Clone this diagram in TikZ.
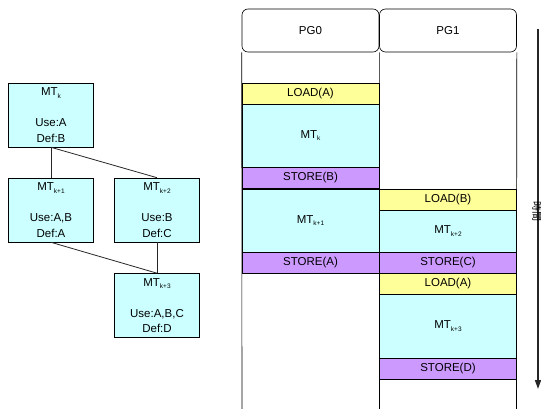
\documentclass[tikz,border=0pt]{standalone}
\usepackage{fontspec}
\setmainfont{Liberation Sans}
\newfontfamily\cjkfont{Noto Sans CJK JP}
\usetikzlibrary{arrows.meta}
\definecolor{mtcyan}{HTML}{CCFFFF}
\definecolor{ldyellow}{HTML}{FFFF99}
\definecolor{stpurple}{HTML}{CC99FF}
\newcommand{\mtsub}[1]{MT\raisebox{-0.45ex}{\fontsize{6.5}{6.5}\selectfont #1}}
\tikzset{
  graphbox/.style={draw=black, line width=0.6pt, fill=mtcyan, minimum width=85pt, minimum height=64pt,
    inner sep=0pt, align=center, font=\fontsize{11.5}{15.5}\selectfont},
  dep/.style={draw=black!85, line width=0.8pt},
  pghead/.style={draw=black, line width=0.6pt, rounded corners=6pt, minimum width=137pt, minimum height=43pt,
    inner sep=0pt, font=\fontsize{11.5}{12}\selectfont},
  blk/.style={draw=black, line width=0.6pt, minimum width=137pt, inner sep=0pt, font=\fontsize{11.5}{12}\selectfont},
  loadblk/.style={blk, fill=ldyellow, minimum height=21pt},
  storeblk/.style={blk, fill=stpurple, minimum height=21pt},
  mtblk/.style={blk, fill=mtcyan},
  colline/.style={draw=black, line width=0.6pt},
  timearrow/.style={draw=black!85, line width=1.6pt, -{Triangle[length=9pt,width=6pt]}}
}
\begin{document}
\begin{tikzpicture}[x=1pt,y=-1pt]
\useasboundingbox (0,0) rectangle (541,409);
% dependency graph
\node[graphbox] (mk) at (51,115) {\mtsub{k}\\[15.5pt]Use:A\\Def:B};
\node[graphbox] (mk1) at (51,210) {\mtsub{k+1}\\[15.5pt]Use:A,B\\Def:A};
\node[graphbox] (mk2) at (157,210) {\mtsub{k+2}\\[15.5pt]Use:B\\Def:C};
\node[graphbox] (mk3) at (157,305.5) {\mtsub{k+3}\\[15.5pt]Use:A,B,C\\Def:D};
\draw[dep] (mk.south) -- (mk1.north);
\draw[dep] (mk.south) -- (mk2.north);
\draw[dep] (mk1.south) -- (mk3.north);
\draw[dep] (mk2.south) -- (mk3.north);
% PG headers
\node[pghead] (pg0) at (310.5,30.5) {PG0};
\node[pghead] (pg1) at (448,30.5) {PG1};
% PG0 blocks
\node[loadblk] (l0a) at (310.5,93.5) {LOAD(A)};
\node[mtblk, minimum height=63pt] (p0k) at (310.5,135.5) {\mtsub{k}};
\node[storeblk] (s0b) at (310.5,178) {STORE(B)};
\node[mtblk, minimum height=63pt] (p0k1) at (310.5,220.5) {\mtsub{k+1}};
\node[storeblk] (s0a) at (310.5,262.5) {STORE(A)};
% PG1 blocks
\node[loadblk] (l1b) at (448,199.5) {LOAD(B)};
\node[mtblk, minimum height=42pt] (p1k2) at (448,231) {\mtsub{k+2}};
\node[storeblk] (s1c) at (448,262.5) {STORE(C)};
\node[loadblk] (l1a) at (448,283.5) {LOAD(A)};
\node[mtblk, minimum height=64pt] (p1k3) at (448,326) {\mtsub{k+3}};
\node[storeblk] (s1d) at (448,368.5) {STORE(D)};
% column lines
\coordinate (b0) at (242,409);
\coordinate (b1) at (379.5,409);
\coordinate (b2) at (516.5,409);
\draw[colline] (pg0.south west) -- (b0);
\draw[colline] (pg0.south east) -- (b1);
\draw[colline] (pg1.south east) -- (b2);
% time arrow
\coordinate (tstart) at (538,29);
\coordinate (tend) at (538,389);
\draw[timearrow] (tstart) -- (tend);
\node[rotate=-90, font=\cjkfont\fontsize{10}{10}\selectfont, inner sep=0pt] (tlabel) at (537,211) {時間};
\end{tikzpicture}
\end{document}
